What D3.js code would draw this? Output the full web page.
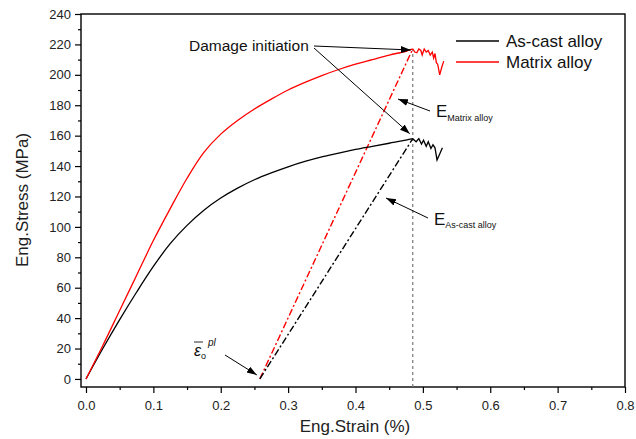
<!DOCTYPE html>
<html>
<head>
<meta charset="utf-8">
<script src="https://cdn.jsdelivr.net/npm/d3@7"></script>
<style>
  body { margin: 0; background: #fff; }
  text { font-family: "Liberation Sans", Arial, sans-serif; }
</style>
</head>
<body>
<div id="chart"></div>
<script>
// dati
var castStrain = [0, 0.025, 0.05, 0.075, 0.1, 0.125, 0.15, 0.175, 0.2, 0.225, 0.25, 0.275, 0.3, 0.325, 0.35, 0.375, 0.4, 0.425, 0.45, 0.475, 0.485,
  0.49, 0.494, 0.498, 0.501, 0.505, 0.508, 0.512, 0.515, 0.518, 0.521, 0.525, 0.529];
var castStress = [0, 20, 39, 57, 74, 89, 101, 111, 119, 125.5, 131, 135.5, 139.5, 143, 146, 148.5, 151, 153, 155, 157, 158,
  156, 158, 154.5, 157, 153, 156, 151.5, 154, 152, 144, 148, 152];

var matrixStrain = [0, 0.025, 0.05, 0.075, 0.1, 0.125, 0.15, 0.175, 0.2, 0.225, 0.25, 0.275, 0.3, 0.325, 0.35, 0.375, 0.4, 0.425, 0.45, 0.475, 0.485,
  0.488, 0.491, 0.494, 0.497, 0.499, 0.502, 0.505, 0.508, 0.511, 0.514, 0.516, 0.518, 0.52, 0.522, 0.525, 0.528, 0.531];
var matrixStress = [0, 22, 45, 68, 91, 112, 132, 149, 161, 170, 177.5, 184, 190, 195, 199.5, 203.5, 207, 210, 213, 215.5, 217,
  215, 214.5, 217, 216, 213, 217, 215, 216, 213, 215, 211, 214, 208, 207, 200, 205, 209];

// rette di scarico (modulo elastico)
var unloadStrain = [0.258, 0.485];
var unloadMatrix = [0, 217];
var unloadCast = [0, 158];

var xTicks = [0, 0.1, 0.2, 0.3, 0.4, 0.5, 0.6, 0.7, 0.8];
var yTicks = [0, 20, 40, 60, 80, 100, 120, 140, 160, 180, 200, 220, 240];
var seriesNames = ["As-cast alloy", "Matrix alloy"];
var seriesColors = ["#000000", "#ff0000"];

var width = 636, height = 439;
var svg = d3.select("#chart").append("svg")
  .attr("width", width).attr("height", height);

var x = d3.scaleLinear().domain([-0.0074, 0.8]).range([81, 625]);
var y = d3.scaleLinear().domain([-5.3, 240]).range([387, 14]);

var defs = svg.append("defs");
defs.append("marker")
  .attr("id", "arrow")
  .attr("viewBox", "0 0 10 10")
  .attr("refX", 10).attr("refY", 5)
  .attr("markerWidth", 10).attr("markerHeight", 10)
  .attr("markerUnits", "userSpaceOnUse")
  .attr("orient", "auto")
  .append("path").attr("d", "M0,1.5 L10,5 L0,8.5 Z").attr("fill", "#000");

// assi
var xAxis = svg.append("g").attr("transform", "translate(0,387)")
  .call(d3.axisBottom(x).tickValues(xTicks).tickSize(6).tickFormat(d3.format(".1f")));
var xMinor = svg.append("g").attr("transform", "translate(0,387)")
  .call(d3.axisBottom(x).tickValues(d3.range(0.05, 0.8, 0.1)).tickSize(3).tickFormat(""));
var yAxis = svg.append("g").attr("transform", "translate(81,0)")
  .call(d3.axisLeft(y).tickValues(yTicks).tickSize(6).tickPadding(4));
var yMinor = svg.append("g").attr("transform", "translate(81,0)")
  .call(d3.axisLeft(y).tickValues(d3.range(10, 240, 20)).tickSize(3).tickFormat(""));

[xAxis, xMinor, yAxis, yMinor].forEach(function (g) {
  g.select(".domain").remove();
  g.selectAll("line").attr("stroke", "#000").attr("stroke-width", 1.2);
  g.selectAll("text").attr("font-size", 13).attr("fill", "#222")
    .attr("font-family", "'Liberation Sans', Arial, sans-serif");
});
xAxis.selectAll("text").attr("dy", "1.1em");

svg.append("rect")
  .attr("x", 81).attr("y", 14).attr("width", 625 - 81).attr("height", 387 - 14)
  .attr("fill", "none").attr("stroke", "#000").attr("stroke-width", 1.4);

svg.append("text").attr("x", 355).attr("y", 432).attr("text-anchor", "middle")
  .attr("font-size", 17).attr("fill", "#222").text("Eng.Strain (%)");
svg.append("text").attr("transform", "translate(28,200) rotate(-90)").attr("text-anchor", "middle")
  .attr("font-size", 17).attr("fill", "#222").text("Eng.Stress (MPa)");

// linea verticale tratteggiata
svg.append("line")
  .attr("x1", x(0.485)).attr("x2", x(0.485))
  .attr("y1", 387).attr("y2", y(217))
  .attr("stroke", "#777").attr("stroke-width", 1.2).attr("stroke-dasharray", "3,3");

// rette di scarico
var line = d3.line().x(d => x(d[0])).y(d => y(d[1]));
var smooth = d3.line().x(d => x(d[0])).y(d => y(d[1])).curve(d3.curveCatmullRom.alpha(0.5));
svg.append("path").datum(d3.zip(unloadStrain, unloadMatrix)).attr("d", line)
  .attr("fill", "none").attr("stroke", "#ff0000").attr("stroke-width", 1.4)
  .attr("stroke-dasharray", "7,2.5,2,2.5");
svg.append("path").datum(d3.zip(unloadStrain, unloadCast)).attr("d", line)
  .attr("fill", "none").attr("stroke", "#000").attr("stroke-width", 1.4)
  .attr("stroke-dasharray", "7,2.5,2,2.5");

// curve: parte liscia fino al danno, poi coda seghettata
function drawCurve(strain, stress, color) {
  var pts = d3.zip(strain, stress);
  var k = strain.indexOf(0.485);
  svg.append("path").datum(pts.slice(0, k + 1)).attr("d", smooth)
    .attr("fill", "none").attr("stroke", color).attr("stroke-width", 1.3);
  svg.append("path").datum(pts.slice(k)).attr("d", line)
    .attr("fill", "none").attr("stroke", color).attr("stroke-width", 1.3);
}
drawCurve(castStrain, castStress, seriesColors[0]);
drawCurve(matrixStrain, matrixStress, seriesColors[1]);

// legenda
seriesNames.forEach(function (name, i) {
  var ly = 41 + i * 21;
  svg.append("line").attr("x1", 456).attr("x2", 499).attr("y1", ly).attr("y2", ly)
    .attr("stroke", seriesColors[i]).attr("stroke-width", 1.3);
  svg.append("text").attr("x", 506).attr("y", ly + 6).attr("font-size", 17)
    .attr("fill", "#111").text(name);
});

// annotazioni
function arrow(x1, y1, x2, y2) {
  svg.append("line").attr("x1", x1).attr("y1", y1).attr("x2", x2).attr("y2", y2)
    .attr("stroke", "#000").attr("stroke-width", 1).attr("marker-end", "url(#arrow)");
}
svg.append("text").attr("x", 189).attr("y", 51).attr("font-size", 15.5)
  .attr("fill", "#111").text("Damage initiation");
arrow(314, 46, x(0.485) - 2, y(217) + 1);
arrow(314, 48, x(0.485) - 3, y(158) - 5);

svg.append("text").attr("x", 436).attr("y", 117).attr("font-size", 17).attr("fill", "#111")
  .text("E").append("tspan").attr("font-size", 9).attr("dy", 4).text("Matrix alloy");
arrow(430, 111, 398, 99);

svg.append("text").attr("x", 434).attr("y", 225).attr("font-size", 17).attr("fill", "#111")
  .text("E").append("tspan").attr("font-size", 9).attr("dy", 3).text("As-cast alloy");
arrow(428, 218, 386, 198);

// epsilon plastico
var eps = svg.append("text").attr("x", 194).attr("y", 356)
  .attr("font-family", "'Liberation Serif', 'Times New Roman', serif")
  .attr("font-style", "italic").attr("font-size", 16).attr("fill", "#111");
eps.append("tspan").text("ε");
eps.append("tspan").attr("font-size", 9).attr("font-style", "normal").attr("dy", 3).text("o");
eps.append("tspan").attr("font-size", 10).attr("dy", -13).attr("dx", 2).text("pl");
svg.append("line").attr("x1", 194).attr("x2", 203).attr("y1", 342).attr("y2", 342)
  .attr("stroke", "#111").attr("stroke-width", 0.9);
arrow(225, 355, x(0.258) - 3, y(0) - 4);
</script>
</body>
</html>
